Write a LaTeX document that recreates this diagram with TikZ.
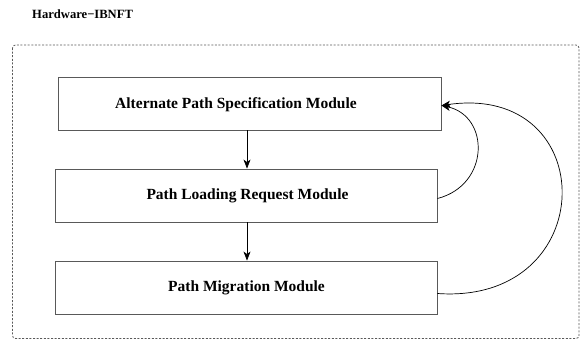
\documentclass[tikz,border=0pt]{standalone}
\usepackage{fontspec}
\setmainfont{Liberation Serif}
\usetikzlibrary{arrows.meta}
\begin{document}
\begin{tikzpicture}[x=1pt,y=-1pt,
  modbox/.style={draw=black!65,line width=0.9pt,fill=white,minimum width=382pt,minimum height=53pt,inner sep=0pt},
  modtext/.style={font=\fontsize{15.5}{18}\selectfont\bfseries,inner sep=0pt},
  conn/.style={line width=0.7pt,-{Stealth[length=9pt,width=7pt,inset=2.5pt]}},
  frame/.style={draw=black!65,line width=0.8pt,dash pattern=on 2pt off 1.6pt,rounded corners=3pt}]
\useasboundingbox (0,0) rectangle (581,341);
\node[font=\fontsize{12.6}{15}\selectfont\bfseries,inner sep=0pt,anchor=west] (title) at (32,14.5) {Hardware−IBNFT};
\draw[frame] (12.5,45) rectangle (579,338.5);
\node[modbox,minimum width=383pt] (b1) at (249.5,103.5) {};
\node[modtext] (t1) at (236,104.5) {Alternate Path Specification Module};
\node[modbox] (b2) at (246,195.5) {};
\node[modtext] (t2) at (247.5,195.5) {Path Loading Request Module};
\node[modbox] (b3) at (246,287.5) {};
\node[modtext] (t3) at (246.5,288) {Path Migration Module};
\draw[conn] (b1.south -| 247,0) -- (b2.north -| 247,0);
\draw[conn] (b2.south -| 247,0) -- (b3.north -| 247,0);
\coordinate (e1) at ([yshift=-2pt]b1.east);
\draw[conn] ([yshift=-3pt]b2.east) .. controls (490,185) and (490,116) .. (e1);
\draw[conn] ([yshift=-6pt]b3.east) .. controls (602,305) and (602,82) .. (e1);
\end{tikzpicture}
\end{document}
